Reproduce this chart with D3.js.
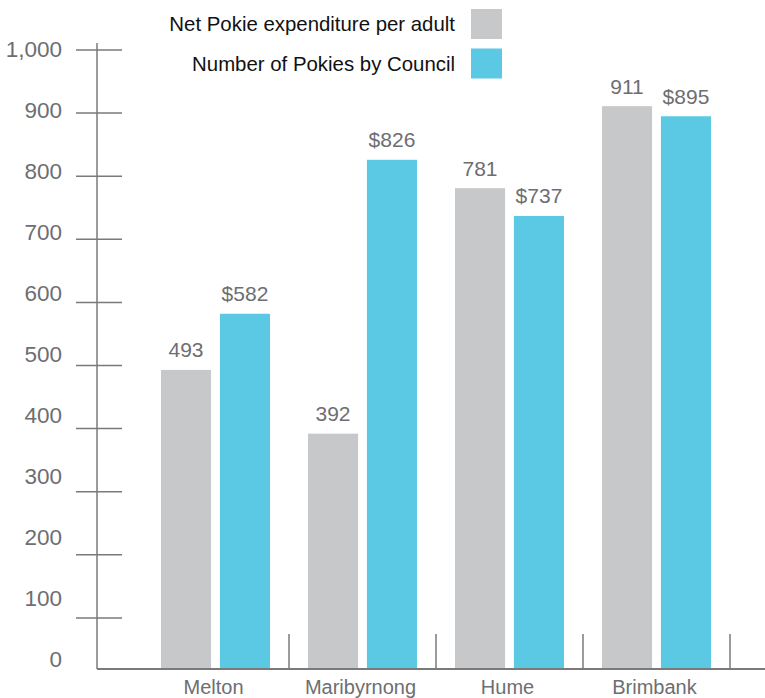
<!DOCTYPE html>
<html>
<head>
<meta charset="utf-8">
<script src="https://cdn.jsdelivr.net/npm/d3@7"></script>
<style>
  body { margin: 0; background: #fff; }
  svg { display: block; font-family: "Liberation Sans", Arial, sans-serif; }
</style>
</head>
<body>
<svg id="chart" width="765" height="698"></svg>
<script>
//Chart data
const councils = ['Melton', 'Maribyrnong', 'Hume', 'Brimbank'];
const seriesNames = ['Net Pokie expenditure per adult', 'Number of Pokies by Council'];
const expenditure = [493, 392, 781, 911];
const pokies = [582, 826, 737, 895];
const yTicks = [0, 100, 200, 300, 400, 500, 600, 700, 800, 900, 1000];

const colors = ['#c7c8ca', '#5bc8e4'];
const textGray = '#6d6e71';
const lineGray = '#7a7a7a';
const baseY = 669;

var svg = d3.select('#chart');

//Scale for bars and tick marks
var y = d3.scaleLinear().domain([0, 1000]).range([681, 50]);
//Tick labels sit a little above their tick marks
var yLabel = d3.scaleLinear().domain([0, 1000]).range([659, 49]);

var x = d3.scaleBand().domain(councils).range([142, 730]);
var xInner = d3.scaleBand().domain(seriesNames).range([19, 128]).paddingInner(0.15);

//Y axis line
svg.append('line')
    .attr('x1', 97).attr('x2', 97)
    .attr('y1', 43).attr('y2', baseY)
    .attr('stroke', lineGray).attr('stroke-width', 1.5);

//Tick marks cross the axis
svg.selectAll('.ytick')
    .data(yTicks.filter(d => d > 0))
    .enter().append('line')
    .attr('class', 'ytick')
    .attr('x1', 76).attr('x2', 122)
    .attr('y1', d => y(d)).attr('y2', d => y(d))
    .attr('stroke', lineGray).attr('stroke-width', 1.5);

svg.selectAll('.ylabel')
    .data(yTicks)
    .enter().append('text')
    .attr('class', 'ylabel')
    .attr('x', 62)
    .attr('y', d => yLabel(d))
    .attr('dy', '0.35em')
    .attr('text-anchor', 'end')
    .attr('font-size', 22.5)
    .attr('fill', textGray)
    .text(d => d3.format(',')(d));

//Bars
var rows = councils.map((c, i) => ({council: c, values: [expenditure[i], pokies[i]]}));

var groups = svg.selectAll('.group')
    .data(rows)
    .enter().append('g')
    .attr('class', 'group')
    .attr('transform', d => 'translate(' + x(d.council) + ',0)');

groups.selectAll('rect')
    .data(d => d.values.map((v, j) => ({series: seriesNames[j], value: v, j: j})))
    .enter().append('rect')
    .attr('x', d => xInner(d.series))
    .attr('width', xInner.bandwidth())
    .attr('y', d => y(d.value))
    .attr('height', d => baseY - y(d.value))
    .attr('fill', d => colors[d.j]);

groups.selectAll('.vlabel')
    .data(d => d.values.map((v, j) => ({series: seriesNames[j], value: v, j: j})))
    .enter().append('text')
    .attr('class', 'vlabel')
    .attr('x', d => xInner(d.series) + xInner.bandwidth() / 2)
    .attr('y', d => y(d.value) - 20)
    .attr('dy', '0.35em')
    .attr('text-anchor', 'middle')
    .attr('font-size', 21)
    .attr('fill', textGray)
    .text(d => d.j == 1 ? '$' + d.value : d.value);

//Baseline and separators
svg.append('line')
    .attr('x1', 97).attr('x2', 765)
    .attr('y1', baseY).attr('y2', baseY)
    .attr('stroke', lineGray).attr('stroke-width', 2);

svg.selectAll('.sep')
    .data(councils)
    .enter().append('line')
    .attr('class', 'sep')
    .attr('x1', d => x(d) + x.bandwidth()).attr('x2', d => x(d) + x.bandwidth())
    .attr('y1', 634).attr('y2', baseY)
    .attr('stroke', lineGray).attr('stroke-width', 1.5);

svg.selectAll('.xlabel')
    .data(councils)
    .enter().append('text')
    .attr('class', 'xlabel')
    .attr('x', d => x(d) + x.bandwidth() / 2 - 2)
    .attr('y', 694)
    .attr('text-anchor', 'middle')
    .attr('font-size', 20)
    .attr('fill', textGray)
    .text(d => d);

//Legend
var legend = svg.selectAll('.legend')
    .data(seriesNames)
    .enter().append('g')
    .attr('class', 'legend')
    .attr('transform', (d, i) => 'translate(0,' + (i * 39.5) + ')');

legend.append('rect')
    .attr('x', 471).attr('y', 9)
    .attr('width', 31).attr('height', 30)
    .attr('fill', (d, i) => colors[i]);

legend.append('text')
    .attr('x', 455).attr('y', 24)
    .attr('dy', '0.35em')
    .attr('text-anchor', 'end')
    .attr('font-size', 20.4)
    .attr('fill', '#111')
    .text(d => d);
</script>
</body>
</html>
